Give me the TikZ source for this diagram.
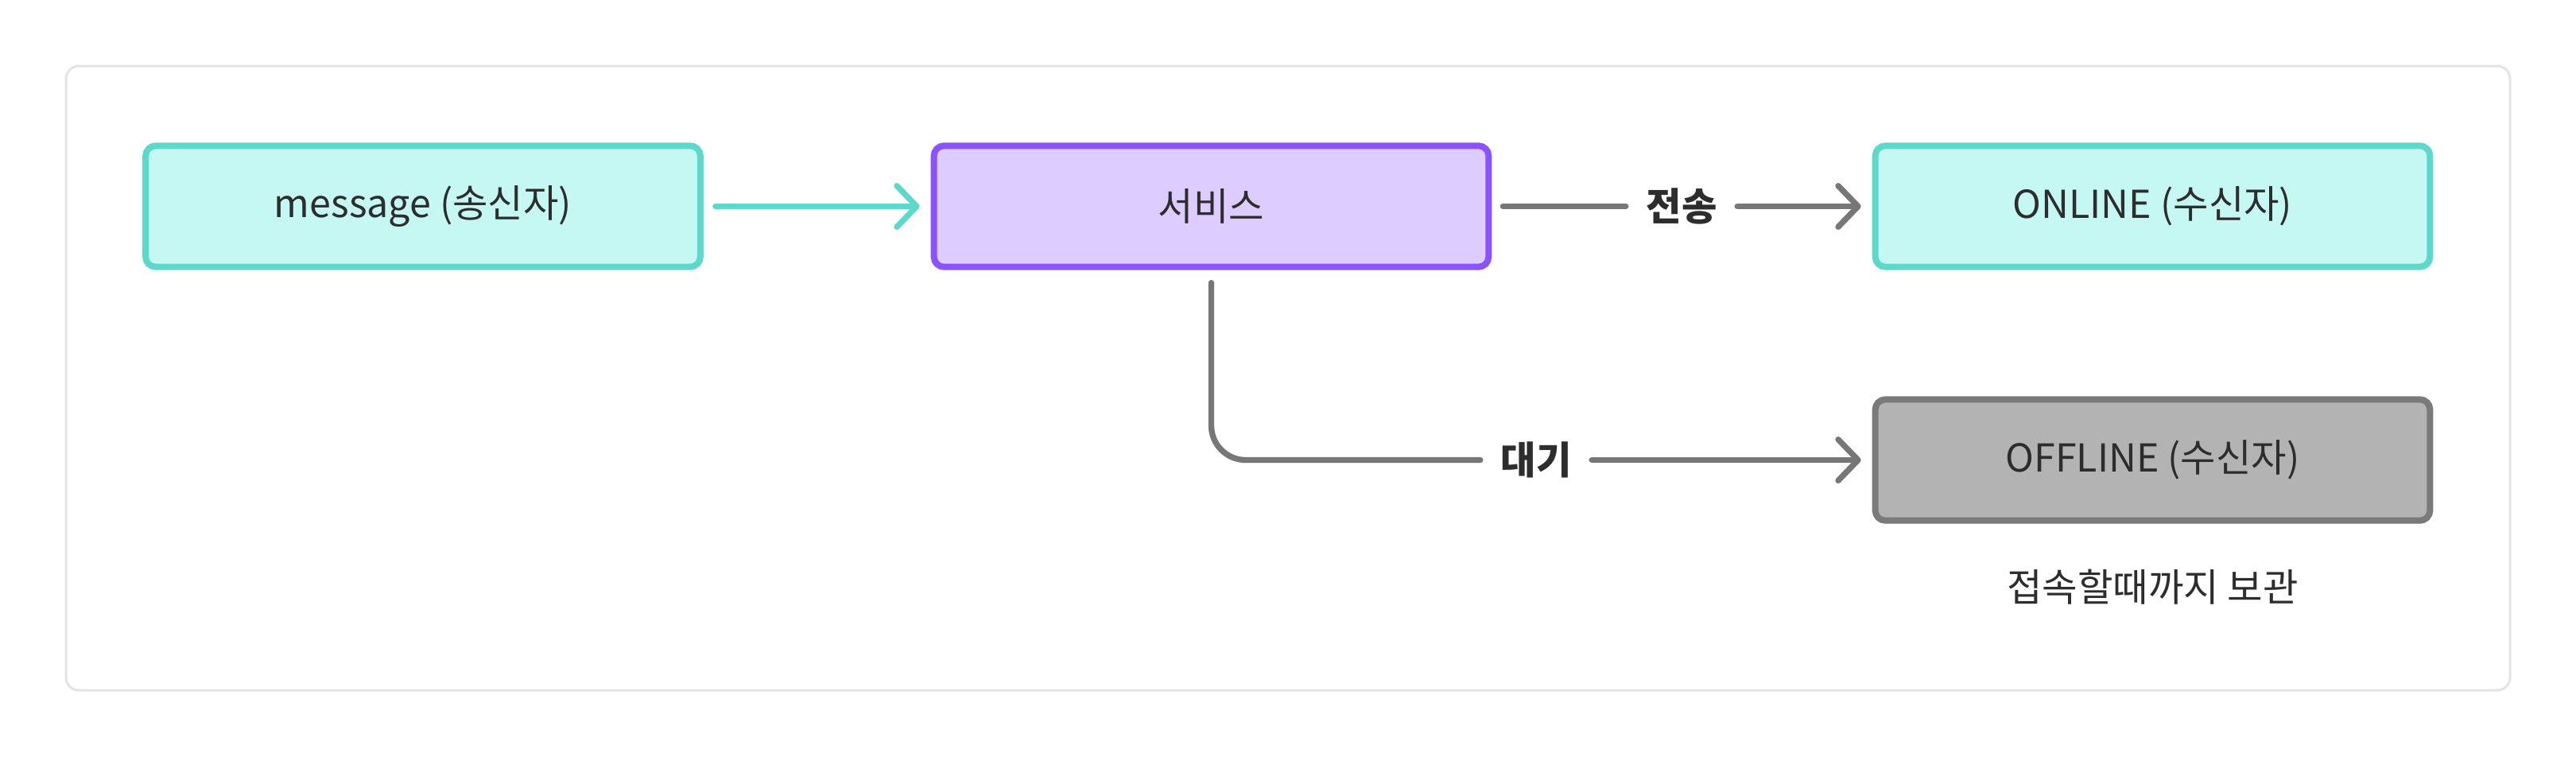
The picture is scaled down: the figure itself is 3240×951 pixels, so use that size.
\documentclass[tikz,border=0pt]{standalone}
\usepackage{fontspec}
\setmainfont{Noto Sans CJK KR}
\usetikzlibrary{arrows.meta}
\definecolor{framec}{HTML}{E4E4E4}
\definecolor{tealb}{HTML}{5DD9CB}
\definecolor{tealf}{HTML}{C5F8F3}
\definecolor{purpb}{HTML}{8B52FF}
\definecolor{purpf}{HTML}{DDCCFF}
\definecolor{grayb}{HTML}{7A7A7A}
\definecolor{grayf}{HTML}{B3B3B3}
\definecolor{linec}{HTML}{777777}
\definecolor{txt}{HTML}{2D2D2D}
\begin{document}
\begin{tikzpicture}[x=0.3pt,y=-0.3pt,
  box/.style={rectangle, rounded corners=3.8pt, line width=2.4pt, minimum width=209.3pt, minimum height=45.7pt, inner sep=0pt, text=txt, font=\fontsize{14.5pt}{17pt}\selectfont},
  tealbox/.style={box, draw=tealb, fill=tealf},
  purpbox/.style={box, draw=purpb, fill=purpf},
  graybox/.style={box, draw=grayb, fill=grayf},
  lbl/.style={inner xsep=7.5pt, inner ysep=0pt, text=txt, font=\fontsize{14.5pt}{17pt}\selectfont\bfseries},
  conn/.style={line width=2.2pt, line cap=round, draw=linec},
  arr/.style={conn, -{Straight Barb[length=7.5pt,width=15.5pt,round]}},
  tarr/.style={arr, draw=tealb}
]
\useasboundingbox (0,0) rectangle (3240,951);
\fill[white] (0,0) rectangle (3240,951);
\draw[framec, line width=0.9pt, rounded corners=4.8pt, fill=white] (83,83) rectangle (3157,868);

\node[tealbox] (msg) at (532,259.5) {message (송신자)};
\node[purpbox] (srv) at (1523.5,259.5) {서비스};
\node[tealbox] (on) at (2707.5,259.5) {ONLINE (수신자)};
\node[graybox] (off) at (2707.5,578.5) {OFFLINE (수신자)};
\node[text=txt, font=\fontsize{14.5pt}{17pt}\selectfont] (note) at (2707.5,738) {접속할때까지 보관};

\coordinate (msgout) at ([xshift=4.5pt]msg.east);
\coordinate (srvin) at ([xshift=-4.2pt]srv.west);
\draw[tarr] (msgout) -- (srvin);

\coordinate (srvout) at ([xshift=4.2pt]srv.east);
\coordinate (onin) at ([xshift=-4.2pt]on.west);
\node[lbl] (l1) at (2115,259.5) {전송};
\draw[conn] (srvout) -- (l1.west);
\draw[arr] (l1.east) -- (onin);

\coordinate (srvdown) at ([yshift=-4.8pt]srv.south);
\coordinate (offin) at ([xshift=-4.2pt]off.west);
\node[lbl] (l2) at (1932,578.5) {대기};
\draw[conn, rounded corners=13pt] (srvdown) |- (l2.west);
\draw[arr] (l2.east) -- (offin);
\end{tikzpicture}
\end{document}
